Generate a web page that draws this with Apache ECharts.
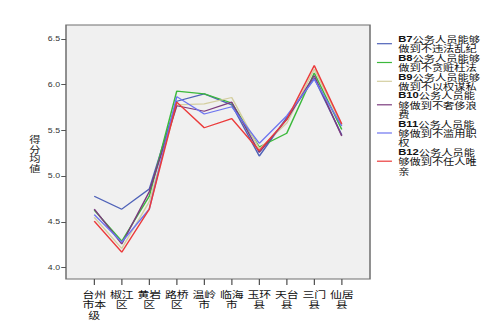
<!DOCTYPE html>
<html>
<head>
<meta charset="utf-8">
<script src="https://cdn.jsdelivr.net/npm/echarts@6/dist/echarts.min.js"></script>
<style>
  html, body { margin: 0; padding: 0; background: #ffffff; overflow: hidden; }
  /* The chart is laid out in a narrower box and widened horizontally,
     which gives the text its wide, flat look. */
  #chart { width: 394px; height: 322px; transform: scaleX(1.25); transform-origin: 0 0; }
</style>
</head>
<body>
<div id="chart"></div>
<script>
// Districts on the x axis
const categories = ['台州市本级', '椒江区', '黄岩区', '路桥区', '温岭市', '临海市', '玉环县', '天台县', '三门县', '仙居县'];

// Survey items
const seriesNames = [
  'B7公务人员能够做到不违法乱纪',
  'B8公务人员能够做到不贪赃枉法',
  'B9公务人员能够做到不以权谋私',
  'B10公务人员能够做到不奢侈浪费',
  'B11公务人员能够做到不滥用职权',
  'B12公务人员能够做到不任人唯亲'
];

// Mean scores per district
const b7  = [4.78, 4.64, 4.86, 5.82, 5.90, 5.78, 5.22, 5.64, 6.07, 5.45];
const b8  = [4.63, 4.29, 4.78, 5.93, 5.90, 5.80, 5.32, 5.47, 6.13, 5.51];
const b9  = [4.55, 4.21, 4.72, 5.78, 5.79, 5.86, 5.30, 5.58, 6.17, 5.56];
const b10 = [4.64, 4.26, 4.83, 5.77, 5.71, 5.81, 5.26, 5.62, 6.10, 5.44];
const b11 = [4.58, 4.28, 4.64, 5.87, 5.68, 5.76, 5.36, 5.66, 6.06, 5.55];
const b12 = [4.51, 4.17, 4.64, 5.81, 5.53, 5.63, 5.28, 5.62, 6.21, 5.57];

// Value axis
const yMin = 4.0, yMax = 6.5, yStep = 0.5;

const seriesColors = ['#4f62b8', '#3cb93c', '#d4cfa0', '#7b3b7e', '#6d74f0', '#eb3b3b'];
const seriesValues = [b7, b8, b9, b10, b11, b12];

// Layout helpers: horizontal positions are given in page pixels and
// converted into the narrower chart box.
const S = 1.25, W = 394;
const hx = v => v / S;

const chart = echarts.init(document.getElementById('chart'), null, { renderer: 'svg' });

// Legend labels: eight characters on the first line, then seven per line
function wrapLegend(name) {
  const code = name.match(/^B\d+/)[0];
  const lines = [name.slice(0, 8)];
  for (let i = 8; i < name.length; i += 7) lines.push(name.slice(i, i + 7));
  lines[0] = '{b|' + code + '}' + lines[0].slice(code.length);
  return lines.join('\n');
}

// Category labels: two characters per line
function wrapCategory(name) {
  const parts = [];
  for (let i = 0; i < name.length; i += 2) parts.push(name.slice(i, i + 2));
  return parts.join('\n');
}

const frameL = hx(66), frameR = hx(370);
const bandL = hx(80.5), bandR = hx(355.5);

chart.setOption({
  animation: false,
  backgroundColor: '#ffffff',
  grid: [
    { left: frameL, right: W - frameR, top: 25, bottom: 43, show: true,
      backgroundColor: '#f0f0f0', borderColor: '#6e6e6e', borderWidth: 1.2, z: 0 },
    { left: bandL, right: W - bandR, top: 39, bottom: 54.3 }
  ],
  xAxis: [
    { gridIndex: 0, type: 'value', show: false },
    {
      gridIndex: 1, type: 'category', data: categories, position: 'bottom',
      offset: 11.3, boundaryGap: true,
      axisLine: { show: false },
      axisTick: { show: true, alignWithLabel: true, length: 6, lineStyle: { color: '#555', width: 1 } },
      axisLabel: {
        interval: 0, margin: 9.5, fontSize: 9.5, lineHeight: 10.5, color: '#111',
        fontFamily: 'Noto Sans CJK SC', formatter: wrapCategory
      },
      splitLine: { show: false }
    }
  ],
  yAxis: [
    { gridIndex: 0, type: 'value', show: false },
    {
      gridIndex: 1, type: 'value', min: yMin, max: yMax, interval: yStep,
      offset: bandL - frameL,
      axisLine: { show: false },
      axisTick: { show: true, length: 3.8, lineStyle: { color: '#555', width: 1 } },
      axisLabel: {
        margin: 4.8, fontSize: 7, color: '#333', fontFamily: 'Liberation Sans',
        formatter: v => v.toFixed(1)
      },
      splitLine: { show: false },
      name: '得\n分\n均\n値', nameLocation: 'middle', nameRotate: 0, nameGap: 18.5,
      nameTextStyle: { fontSize: 9, lineHeight: 9.5, color: '#222', fontFamily: 'Noto Sans CJK SC' }
    }
  ],
  legend: {
    orient: 'vertical', left: hx(370.7), top: 29.3, itemGap: 0,
    itemWidth: 12, itemHeight: 1.2, icon: 'rect', selectedMode: false,
    data: seriesNames,
    formatter: wrapLegend,
    textStyle: {
      fontSize: 9, lineHeight: 9.4, color: '#111', fontFamily: 'Noto Sans CJK SC',
      rich: { b: { fontSize: 9, lineHeight: 9.4, fontWeight: 'bold', fontFamily: 'Liberation Sans', color: '#111' } }
    }
  },
  series: seriesNames.map((name, i) => ({
    name: name,
    type: 'line',
    xAxisIndex: 1, yAxisIndex: 1,
    data: seriesValues[i],
    symbol: 'none',
    color: seriesColors[i],
    lineStyle: { width: 1.2, color: seriesColors[i] },
    z: 3
  }))
});
</script>
</body>
</html>
